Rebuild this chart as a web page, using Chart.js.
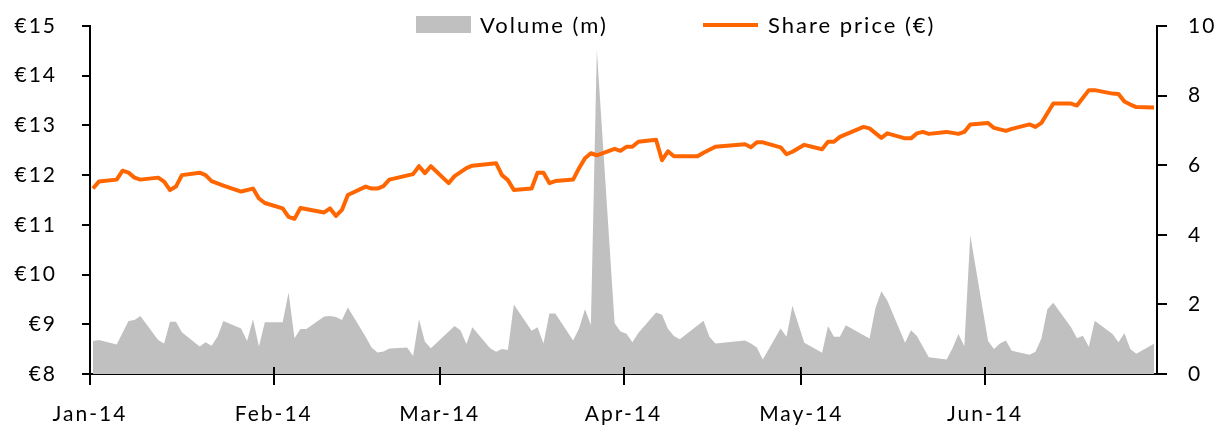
<!DOCTYPE html>
<html>
<head>
<meta charset="utf-8">
<script src="https://cdn.jsdelivr.net/npm/chart.js@4.4.1/dist/chart.umd.min.js"></script>
<style>
  body { margin: 0; background: #fff; }
  #wrap { position: relative; width: 1219px; height: 429px; }
</style>
</head>
<body>
<div id="wrap"><canvas id="myCanvas"></canvas></div>
<script>
var YEAR = 2014;
var monthLabels = ['Jan-14', 'Feb-14', 'Mar-14', 'Apr-14', 'May-14', 'Jun-14'];
var monthStarts = ['01-01', '02-01', '03-01', '04-01', '05-01', '06-01'];
var lastDate = '06-30';

var priceDates = ['01-02','01-03','01-06','01-07','01-08','01-09','01-10','01-13','01-14','01-15',
  '01-16','01-17','01-20','01-21','01-22','01-24','01-27','01-29','01-30','01-31',
  '02-03','02-04','02-05','02-06','02-10','02-11','02-12','02-13','02-14','02-17',
  '02-18','02-19','02-20','02-21','02-25','02-26','02-27','02-28',
  '03-03','03-04','03-06','03-07','03-11','03-12','03-13','03-14','03-17','03-18',
  '03-19','03-20','03-21','03-24','03-25','03-26','03-27','03-28','03-31',
  '04-01','04-02','04-03','04-04','04-07','04-08','04-09','04-10','04-14','04-15',
  '04-17','04-22','04-23','04-24','04-25','04-28','04-29','04-30',
  '05-02','05-05','05-06','05-07','05-08','05-12','05-13','05-15','05-16','05-19',
  '05-20','05-21','05-22','05-23','05-26','05-28','05-29','05-30',
  '06-02','06-03','06-05','06-06','06-09','06-10','06-11','06-13','06-16','06-17',
  '06-19','06-20','06-23','06-24','06-25','06-26','06-27','06-30'];
var priceValues = [11.73,11.87,11.91,12.09,12.05,11.95,11.91,11.95,11.87,11.70,
  11.77,12.00,12.05,12.00,11.88,11.79,11.67,11.73,11.53,11.44,
  11.33,11.16,11.12,11.34,11.25,11.33,11.18,11.30,11.60,11.77,
  11.73,11.73,11.78,11.91,12.02,12.18,12.04,12.18,
  11.84,11.98,12.14,12.19,12.24,12.00,11.90,11.70,11.73,12.05,
  12.05,11.84,11.88,11.91,12.14,12.34,12.44,12.40,12.53,
  12.49,12.57,12.57,12.67,12.71,12.30,12.48,12.38,12.38,12.45,
  12.57,12.62,12.56,12.66,12.66,12.56,12.42,12.47,
  12.61,12.52,12.67,12.67,12.77,12.97,12.94,12.75,12.84,12.74,
  12.74,12.84,12.87,12.83,12.87,12.83,12.87,13.02,
  13.05,12.95,12.89,12.93,13.02,12.97,13.05,13.44,13.44,13.40,
  13.71,13.71,13.64,13.63,13.48,13.42,13.37,13.36];

var volumeDates = ['01-02','01-03','01-06','01-08','01-09','01-10','01-13','01-14','01-15','01-16',
  '01-17','01-20','01-21','01-22','01-23','01-24','01-27','01-28','01-29','01-30','01-31',
  '02-03','02-04','02-05','02-06','02-07','02-10','02-11','02-12','02-13','02-14',
  '02-17','02-18','02-19','02-20','02-21','02-24','02-25','02-26','02-27','02-28',
  '03-04','03-05','03-06','03-07','03-10','03-11','03-12','03-13','03-14',
  '03-17','03-18','03-19','03-20','03-21','03-24','03-25','03-26','03-27','03-28','03-31',
  '04-01','04-02','04-03','04-04','04-07','04-08','04-09','04-10','04-11',
  '04-15','04-16','04-17','04-22','04-23','04-24','04-25','04-28','04-29','04-30',
  '05-02','05-05','05-06','05-07','05-08','05-09','05-13','05-14','05-15','05-16',
  '05-19','05-20','05-21','05-23','05-26','05-27','05-28','05-29','05-30',
  '06-02','06-03','06-04','06-05','06-06','06-09','06-10','06-11','06-12','06-13',
  '06-16','06-17','06-18','06-19','06-20','06-23','06-24','06-25','06-26','06-27','06-30'];
var volumeValues = [0.95,0.98,0.85,1.52,1.55,1.67,0.98,0.88,1.50,1.50,
  1.20,0.79,0.91,0.81,1.07,1.52,1.31,0.95,1.57,0.79,1.49,
  1.49,2.34,1.03,1.29,1.29,1.65,1.67,1.64,1.55,1.91,
  1.07,0.76,0.62,0.65,0.73,0.76,0.52,1.57,0.93,0.74,
  1.38,1.26,0.86,1.34,0.74,0.64,0.72,0.69,2.00,
  1.24,1.34,0.88,1.74,1.74,0.96,1.31,1.86,1.41,9.31,1.46,
  1.22,1.16,0.91,1.18,1.77,1.70,1.30,1.09,1.00,
  1.53,1.07,0.88,0.96,0.88,0.76,0.42,1.31,1.07,1.96,
  0.90,0.61,1.38,1.07,1.07,1.40,1.02,1.89,2.38,2.11,
  0.90,1.26,1.09,0.48,0.42,0.74,1.15,0.80,3.99,
  0.95,0.72,0.88,0.96,0.67,0.55,0.64,1.02,1.86,2.05,
  1.34,1.03,1.10,0.78,1.53,1.15,0.91,1.17,0.72,0.58,0.87];

function dayOf(md) {
  var p = md.split('-');
  return (Date.UTC(YEAR, p[0] - 1, +p[1]) - Date.UTC(YEAR, 0, 1)) / 86400000;
}
function toPoints(dates, values) {
  var pts = [];
  for (var i in dates) pts.push({ x: dayOf(dates[i]), y: values[i] });
  return pts;
}

// month ticks sit half a day after the first of the month, like the Excel date axis
var tickPos = monthStarts.map(function (m) { return dayOf(m) + 0.5; });

var FONT = { family: 'Lato', size: 21 };
Chart.defaults.font.family = 'Lato';
Chart.defaults.color = '#000';

var spacing = {
  id: 'spacing',
  beforeUpdate: function (chart) { chart.ctx.letterSpacing = '2px'; },
  beforeDraw: function (chart) { chart.ctx.letterSpacing = '2px'; }
};

// the month ticks cross the axis line: draw the short inner half
var crossTicks = {
  id: 'crossTicks',
  afterDraw: function (chart) {
    var ctx = chart.ctx, x = chart.scales.x, bottom = chart.chartArea.bottom;
    ctx.save();
    ctx.strokeStyle = '#000';
    ctx.lineWidth = 2;
    ctx.beginPath();
    tickPos.forEach(function (v) {
      var px = Math.round(x.getPixelForValue(v));
      ctx.moveTo(px, bottom - 7);
      ctx.lineTo(px, bottom);
    });
    ctx.stroke();
    ctx.restore();
  }
};

var legendBox = {
  id: 'legendBox',
  afterDraw: function (chart) {
    var ctx = chart.ctx;
    ctx.save();
    ctx.letterSpacing = '2px';
    ctx.font = '22px Lato';
    ctx.textBaseline = 'middle';
    ctx.textAlign = 'left';
    ctx.fillStyle = '#c0c0c0';
    ctx.fillRect(416, 16, 55, 17);
    ctx.fillStyle = '#000';
    ctx.fillText('Volume (m)', 480, 26);
    ctx.strokeStyle = '#ff6600';
    ctx.lineWidth = 4;
    ctx.beginPath();
    ctx.moveTo(703, 25);
    ctx.lineTo(758, 25);
    ctx.stroke();
    ctx.fillText('Share price (€)', 768, 26);
    ctx.restore();
  }
};

// y axes: fixed width and no extra top/bottom room from the tick padding
function fixWidth(w) {
  return function (scale) {
    scale.width = w;
    scale.paddingTop = 0;
    scale.paddingBottom = 0;
  };
}

var ctx = document.getElementById('myCanvas');
var chart = new Chart(ctx, {
  type: 'line',
  data: {
    datasets: [
      {
        label: 'Volume (m)',
        data: toPoints(volumeDates, volumeValues),
        yAxisID: 'y2',
        backgroundColor: '#c0c0c0',
        borderWidth: 0,
        fill: 'origin',
        pointRadius: 0,
        tension: 0,
        order: 1
      },
      {
        label: 'Share price (€)',
        data: toPoints(priceDates, priceValues),
        yAxisID: 'y',
        borderColor: '#ff6600',
        borderWidth: 4,
        borderJoinStyle: 'round',
        fill: false,
        pointRadius: 0,
        tension: 0,
        order: 0
      }
    ]
  },
  plugins: [spacing, crossTicks, legendBox],
  options: {
    responsive: true,
    maintainAspectRatio: false,
    animation: false,
    layout: { padding: { top: 26, left: 0, right: 0, bottom: 0 } },
    plugins: {
      legend: { display: false },
      tooltip: { enabled: false }
    },
    scales: {
      x: {
        type: 'linear',
        min: 0.5,
        max: dayOf(lastDate) + 0.5,
        afterBuildTicks: function (scale) {
          scale.ticks = tickPos.map(function (v) { return { value: v }; });
        },
        afterFit: function (scale) { scale.height = 55; },
        grid: { drawOnChartArea: false, color: '#000', lineWidth: 2, tickLength: 11 },
        border: { color: '#000', width: 2 },
        ticks: {
          font: FONT,
          padding: 17,
          maxRotation: 0,
          autoSkip: false,
          callback: function (value) { return monthLabels[tickPos.indexOf(value)]; }
        }
      },
      y: {
        position: 'left',
        min: 8,
        max: 15,
        afterFit: fixWidth(90),
        grid: { drawOnChartArea: false, color: '#000', lineWidth: 2, tickLength: 8 },
        border: { color: '#000', width: 2 },
        ticks: {
          stepSize: 1,
          font: FONT,
          padding: 25,
          callback: function (v) { return '€' + v; }
        }
      },
      y2: {
        position: 'right',
        min: 0,
        max: 10,
        afterFit: fixWidth(62),
        grid: { drawOnChartArea: false, color: '#000', lineWidth: 2, tickLength: 10 },
        border: { color: '#000', width: 2 },
        ticks: { stepSize: 2, font: FONT, padding: 21 }
      }
    }
  }
});
</script>
</body>
</html>
